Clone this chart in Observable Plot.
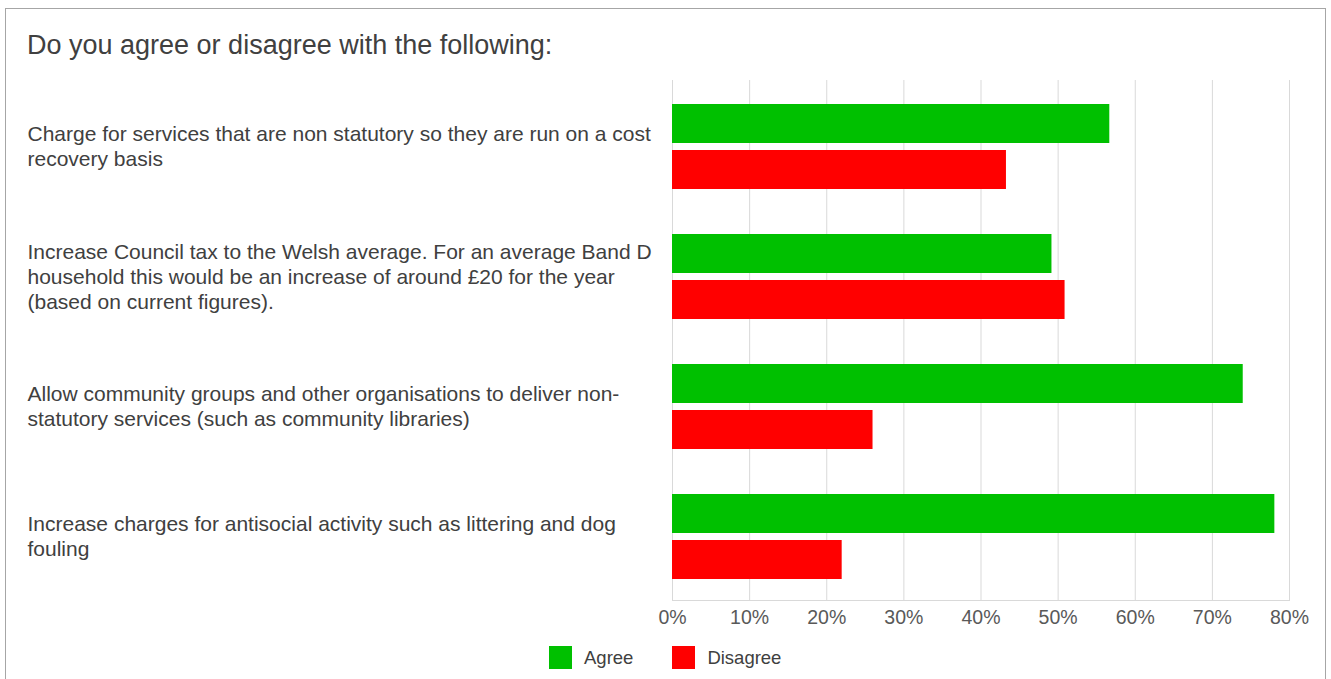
<!DOCTYPE html>
<html>
<head>
<meta charset="utf-8">
<script src="https://cdn.jsdelivr.net/npm/d3@7"></script>
<script src="https://cdn.jsdelivr.net/npm/@observablehq/plot@0.6"></script>
<style>
  html, body { margin: 0; padding: 0; background: #fff; overflow: hidden; }
  body { font-family: "Liberation Sans", Arial, sans-serif; }
  #frame { position: absolute; left: 5px; top: 8px; width: 1321px; height: 690px; box-sizing: border-box; border: 1px solid #a6a6a6; }
  #title { padding: 21px 0 0 21px; font-size: 27px; line-height: 30px; color: #404040; }
  #chart svg { display: block; }
  #legend { display: flex; align-items: center; padding-left: 543px; margin-top: 6px; font-size: 18.5px; color: #404040; }
  .sw { width: 23px; height: 23px; display: inline-block; margin-right: 12px; }
  .item { display: flex; align-items: center; margin-right: 39px; }
</style>
</head>
<body>
<div id="frame">
  <div id="title">Do you agree or disagree with the following:</div>
  <div id="chart"></div>
  <div id="legend"></div>
</div>
<script>
const questions = [
  "Charge for services that are non statutory so they are run on a cost recovery basis",
  "Increase Council tax to the Welsh average. For an average Band D household this would be an increase of around £20 for the year (based on current figures).",
  "Allow community groups and other organisations to deliver non-statutory services (such as community libraries)",
  "Increase charges for antisocial activity such as littering and dog fouling"
];
const series = ["Agree", "Disagree"];
const agree = [56.7, 49.2, 74.0, 78.1];
const disagree = [43.3, 50.9, 26.0, 22.0];
const xTicks = [0, 10, 20, 30, 40, 50, 60, 70, 80];
const colors = ["#00c000", "#ff0000"];

const data = [];
questions.forEach((q, i) => {
  data.push({question: q, series: "Agree", value: agree[i]});
  data.push({question: q, series: "Disagree", value: disagree[i]});
});

const labelFont = 21;
const ctx = document.createElement("canvas").getContext("2d");
ctx.font = `${labelFont}px "Liberation Sans"`;
function wrap(text, maxWidth) {
  // break after spaces or hyphens
  const tokens = text.match(/[^\s-]+-?|\s+/g);
  const lines = [];
  let line = "";
  for (const t of tokens) {
    const candidate = line + t;
    if (line.trim() && ctx.measureText(candidate.trimEnd()).width > maxWidth && t.trim()) {
      lines.push(line.trimEnd());
      line = t;
    } else {
      line = candidate;
    }
  }
  if (line.trim()) lines.push(line.trimEnd());
  return lines.join("\n");
}

const marginLeft = 666;
const chart = Plot.plot({
  width: 1319,
  height: 580,
  marginLeft,
  marginRight: 36,
  marginTop: 20,
  marginBottom: 40,
  style: {fontFamily: "Liberation Sans, Arial, sans-serif", background: "#fff"},
  x: {domain: [0, 80]},
  y: {domain: series, paddingInner: 0.152, paddingOuter: 0.489, align: 0.53, axis: null},
  fy: {domain: questions, padding: 0, axis: null},
  color: {domain: series, range: colors},
  marks: [
    Plot.gridX(xTicks, {stroke: "#d9d9d9", strokeOpacity: 1}),
    Plot.frame({anchor: "bottom", stroke: "#d9d9d9", facetAnchor: "bottom"}),
    Plot.barX(data, {fy: "question", y: "series", x: "value", fill: "series"}),
    Plot.axisX(xTicks, {tickSize: 0, tickPadding: 10, tickFormat: d => d + "%", fontSize: 19.5, fill: "#595959", label: null}),
    Plot.text(questions, {
      fy: d => d, text: d => wrap(d, 636), frameAnchor: "left", textAnchor: "start",
      dx: -(marginLeft - 21), lineHeight: 25 / labelFont,
      fontSize: labelFont, fill: "#404040"
    })
  ]
});
document.getElementById("chart").appendChild(chart);

const legend = document.getElementById("legend");
series.forEach((s, i) => {
  const item = document.createElement("div");
  item.className = "item";
  const sw = document.createElement("span");
  sw.className = "sw";
  sw.style.background = colors[i];
  item.appendChild(sw);
  item.appendChild(document.createTextNode(s));
  legend.appendChild(item);
});
</script>
</body>
</html>
